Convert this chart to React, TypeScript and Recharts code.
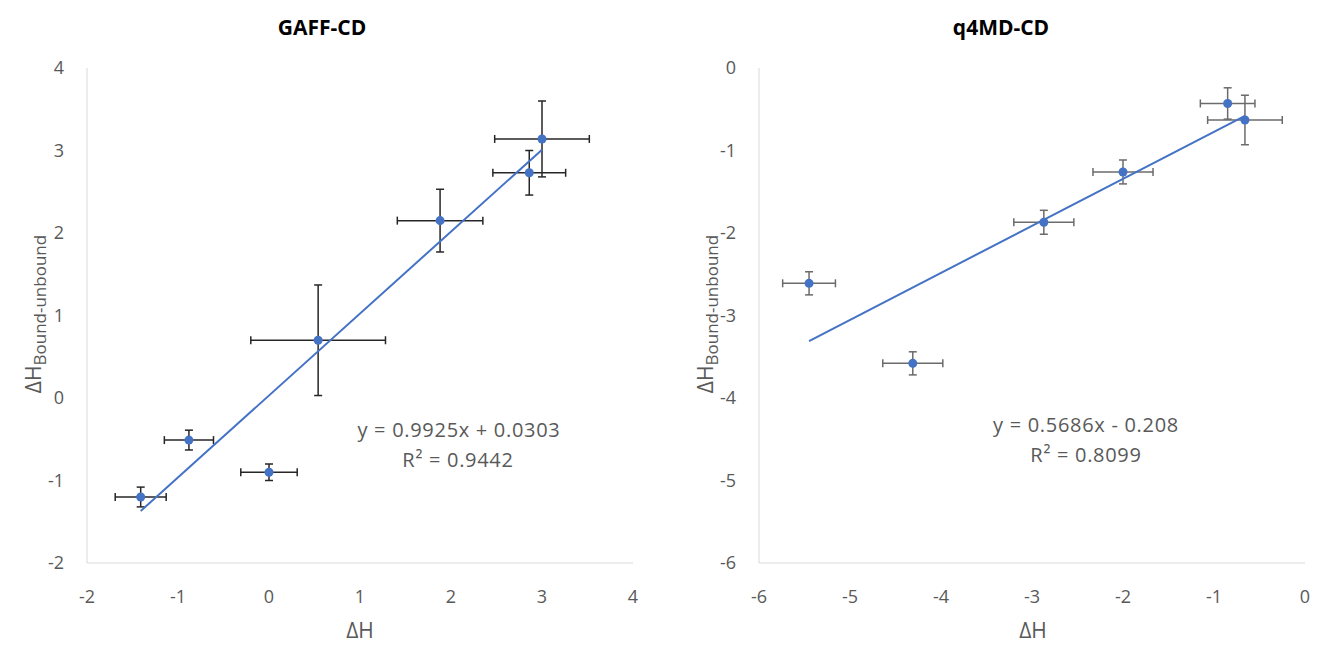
import React from 'react';
import { ScatterChart, Scatter, XAxis, YAxis, ErrorBar, ReferenceLine } from 'recharts';

// GAFF-CD panel
const gaffX = [-1.41, -0.88, 0.0, 0.54, 1.88, 2.86, 3.0];
const gaffY = [-1.2, -0.51, -0.9, 0.7, 2.15, 2.73, 3.14];
const gaffXErr = [0.28, 0.27, 0.31, 0.74, 0.47, 0.4, 0.52];
const gaffYErr = [0.12, 0.12, 0.1, 0.67, 0.38, 0.27, 0.46];
const gaffTrend = [{ x: -1.41, y: -1.37 }, { x: 3.0, y: 3.01 }];
const gaffTicks = [-2, -1, 0, 1, 2, 3, 4];

// q4MD-CD panel
const q4mdX = [-5.45, -4.31, -2.87, -2.0, -0.85, -0.66];
const q4mdY = [-2.61, -3.58, -1.87, -1.26, -0.43, -0.63];
const q4mdXErr = [0.29, 0.33, 0.33, 0.33, 0.3, 0.41];
const q4mdYErr = [0.14, 0.14, 0.145, 0.145, 0.19, 0.3];
const q4mdTrend = [{ x: -5.45, y: -3.31 }, { x: -0.66, y: -0.58 }];
const q4mdTicks = [-6, -5, -4, -3, -2, -1, 0];

const BLUE = '#4472C4';
const GREY = '#595959';
const FONT = '"Open Sans", "Liberation Sans", sans-serif';

type Pt = { x: number; y: number; ex: number; ey: number };

const build = (xs: number[], ys: number[], exs: number[], eys: number[]): Pt[] =>
  xs.map((x, i) => ({ x, y: ys[i], ex: exs[i], ey: eys[i] }));

function Centered({ x, y, children, style }: { x: number; y: number; children: React.ReactNode; style?: React.CSSProperties }) {
  return (
    <div
      style={{
        position: 'absolute',
        left: x,
        top: y,
        transform: 'translate(-50%, -50%)',
        whiteSpace: 'nowrap',
        lineHeight: 1,
        fontFamily: FONT,
        color: GREY,
        ...style,
      }}
    >
      {children}
    </div>
  );
}

type PanelProps = {
  left: number;
  width: number;
  axisWidth: number;
  rightMargin: number;
  ticks: number[];
  data: Pt[];
  trend: { x: number; y: number }[];
  barColor: string;
};

function Panel({ left, width, axisWidth, rightMargin, ticks, data, trend, barColor }: PanelProps) {
  const domain: [number, number] = [ticks[0], ticks[ticks.length - 1]];
  const tickStyle = { fill: GREY, fontSize: 18, fontFamily: FONT };
  return (
    <div style={{ position: 'absolute', left, top: 0 }}>
      <ScatterChart width={width} height={645} margin={{ top: 68, right: rightMargin, bottom: 42, left: 0 }}>
        <XAxis
          type="number"
          dataKey="x"
          domain={domain}
          ticks={ticks}
          height={40}
          tickLine={false}
          tickSize={0}
          tickMargin={27}
          axisLine={{ stroke: '#d9d9d9' }}
          tick={tickStyle}
          allowDataOverflow
        />
        <YAxis
          type="number"
          dataKey="y"
          domain={domain}
          ticks={ticks}
          width={axisWidth}
          tickLine={false}
          tickSize={0}
          tickMargin={23}
          axisLine={{ stroke: '#d9d9d9' }}
          tick={tickStyle}
          allowDataOverflow
        />
        <Scatter data={data} fill={BLUE} isAnimationActive={false} shape="circle">
          <ErrorBar dataKey="ex" direction="x" width={4} stroke={barColor} strokeWidth={1.5} isAnimationActive={false} />
          <ErrorBar dataKey="ey" direction="y" width={4} stroke={barColor} strokeWidth={1.5} isAnimationActive={false} />
        </Scatter>
        <ReferenceLine segment={trend} stroke={BLUE} strokeWidth={2} />
      </ScatterChart>
    </div>
  );
}

function YLabel({ x, y }: { x: number; y: number }) {
  return (
    <Centered x={x} y={y} style={{ transform: 'translate(-50%, -50%) rotate(-90deg)', fontSize: 21 }}>
      ΔH<span style={{ fontSize: 17, position: 'relative', top: 5 }}>Bound-unbound</span>
    </Centered>
  );
}

const eqStyle: React.CSSProperties = { fontSize: 20, letterSpacing: 0.7 };

export default function App() {
  const gaffData = build(gaffX, gaffY, gaffXErr, gaffYErr);
  const q4mdData = build(q4mdX, q4mdY, q4mdXErr, q4mdYErr);
  return (
    <div style={{ position: 'absolute', left: 0, top: 0, width: 1317, height: 645, background: '#fff', overflow: 'hidden' }}>
      <Panel left={0} width={660} axisWidth={87} rightMargin={27} ticks={gaffTicks} data={gaffData} trend={gaffTrend} barColor="#262626" />
      <Panel left={660} width={657} axisWidth={99} rightMargin={12} ticks={q4mdTicks} data={q4mdData} trend={q4mdTrend} barColor="#6b6b6b" />

      <Centered x={322} y={27} style={{ color: '#000', fontWeight: 700, fontSize: 21 }}>GAFF-CD</Centered>
      <Centered x={1001} y={27} style={{ color: '#000', fontWeight: 700, fontSize: 21 }}>q4MD-CD</Centered>

      <YLabel x={33} y={314} />
      <YLabel x={705} y={314} />

      <Centered x={360} y={630} style={{ fontSize: 21 }}>ΔH</Centered>
      <Centered x={1033} y={630} style={{ fontSize: 21 }}>ΔH</Centered>

      <Centered x={459} y={430} style={eqStyle}>y = 0.9925x + 0.0303</Centered>
      <Centered x={458} y={460} style={eqStyle}>R² = 0.9442</Centered>
      <Centered x={1086} y={425} style={eqStyle}>y = 0.5686x - 0.208</Centered>
      <Centered x={1086} y={455} style={eqStyle}>R² = 0.8099</Centered>
    </div>
  );
}
